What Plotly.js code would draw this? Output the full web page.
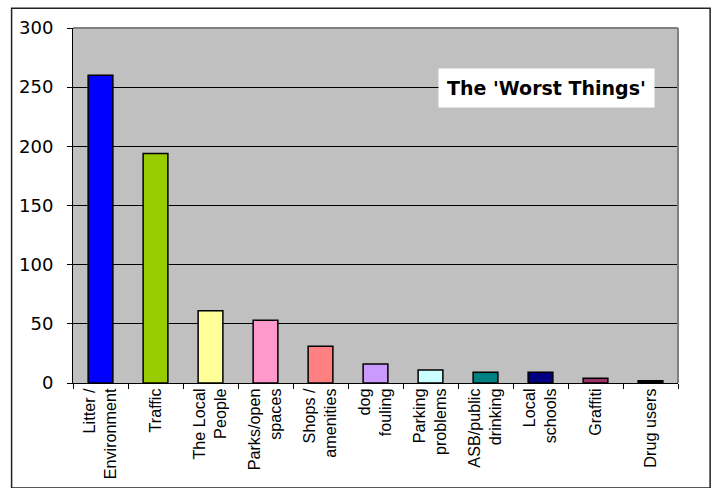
<!DOCTYPE html>
<html>
<head>
<meta charset="utf-8">
<script src="https://cdn.plot.ly/plotly-3.0.1.min.js"></script>
<style>html,body{margin:0;padding:0;background:#fff;}#chart{width:715px;height:488px;}</style>
</head>
<body>
<div id="chart"></div>
<script>
var categories = ["Litter /<br>Environment", "Traffic", "The Local<br>People", "Parks/open<br>spaces", "Shops /<br>amenities", "dog<br>fouling", "Parking<br>problems", "ASB/public<br>drinking", "Local<br>schools", "Graffiti", "Drug users"];
var values = [260, 194, 61, 53, 31, 16, 11, 9, 9, 4, 2];
var barColors = ["#0000FF", "#99CC00", "#FFFF99", "#FF99CC", "#FF8080", "#CC99FF", "#CCFFFF", "#008080", "#000080", "#993366", "#000000"];
var chartTitle = "The 'Worst Things'";

var trace = {
  type: "bar",
  x: categories,
  y: values,
  marker: {color: barColors, line: {color: "#000000", width: 1.5}},
  hoverinfo: "x+y"
};

var layout = {
  width: 715,
  height: 488,
  margin: {l: 72.5, r: 36.5, t: 28.3, b: 105.3, pad: 0},
  paper_bgcolor: "#FFFFFF",
  plot_bgcolor: "#C0C0C0",
  bargap: 0.55,
  showlegend: false,
  xaxis: {
    type: "category",
    tickson: "boundaries",
    ticks: "outside",
    ticklen: 5,
    tickcolor: "#000",
    tickangle: -90,
    showgrid: false,
    showline: true,
    linecolor: "#000",
    linewidth: 1,
    ticklabelstandoff: -2,
    tickfont: {family: "Liberation Sans, Arial, sans-serif", size: 16.2, color: "#000"},
    fixedrange: true
  },
  yaxis: {
    range: [0, 300],
    dtick: 50,
    ticks: "outside",
    ticklen: 5,
    tickcolor: "#000",
    showgrid: true,
    gridcolor: "#000",
    gridwidth: 1,
    showline: true,
    linecolor: "#000",
    linewidth: 1,
    zeroline: false,
    ticklabelstandoff: 10,
    tickfont: {family: "DejaVu Sans, Verdana, sans-serif", size: 18, color: "#000"},
    fixedrange: true
  },
  shapes: [
    {type: "line", xref: "paper", yref: "paper", x0: 0, x1: 1, y0: 1, y1: 1, line: {color: "#808080", width: 2}, layer: "above"},
    {type: "line", xref: "paper", yref: "paper", x0: 1, x1: 1, y0: 0, y1: 1, line: {color: "#808080", width: 2}, layer: "above"},
    {type: "rect", xref: "paper", yref: "paper", x0: -0.1015, x1: 1.0531, y0: -0.2957, y1: 1.0553, line: {color: "#222", width: 1.5}, fillcolor: "rgba(0,0,0,0)"}
  ],
  annotations: [{
    text: "<b>" + chartTitle + "</b>",
    xref: "paper", yref: "paper",
    x: 0.783, y: 0.8316,
    xanchor: "center", yanchor: "middle",
    showarrow: false,
    bgcolor: "#FFFFFF",
    borderpad: 8,
    font: {family: "DejaVu Sans, Verdana, sans-serif", size: 19, color: "#000"}
  }]
};

Plotly.newPlot("chart", [trace], layout, {displayModeBar: false, staticPlot: true});
</script>
</body>
</html>
